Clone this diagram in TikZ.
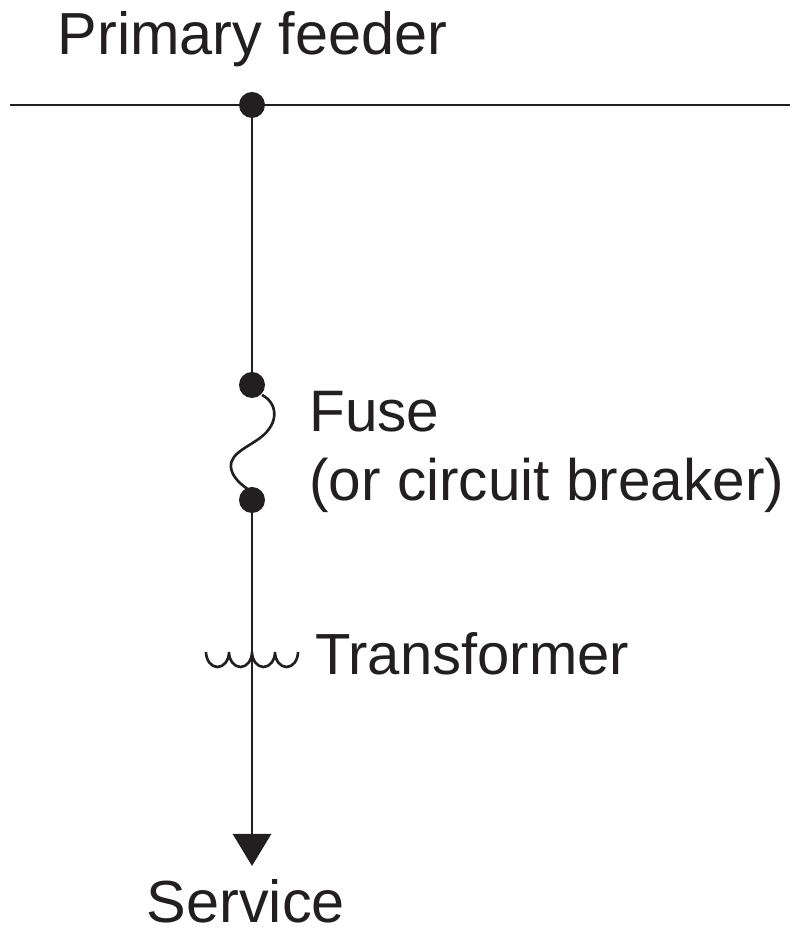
\documentclass[tikz,border=0pt]{standalone}
\usepackage{fontspec}
\setmainfont{Liberation Sans}
\usetikzlibrary{arrows.meta}
\definecolor{inkblack}{HTML}{231F20}

\begin{document}
\begin{tikzpicture}[
rest/.style={line width=1.5pt,color=inkblack},
contact/.style={circle,fill=inkblack,inner sep=0pt,minimum size=.52cm},
label/.style={anchor=base west,inner sep=0pt,text=inkblack,font=\fontsize{33.8}{34}\selectfont},
smalllabel/.style={label,font=\fontsize{33.3}{34}\selectfont},
servicearrow/.style={rest,-{Triangle[length=.64cm,width=.76cm]}}]

\useasboundingbox (0,0) rectangle (15.84,18.56);

\coordinate (feederleft) at (.2,16.46);
\coordinate (feederright) at (15.8,16.46);
\coordinate (servicetip) at (5.04,1.24);

\node[contact] (tap) at (5.04,16.46) {};
\node[contact] (fusetop) at (5.04,10.86) {};
\node[contact] (fusebottom) at (5.04,8.56) {};

\draw[rest] (feederleft) -- (feederright);
\draw[rest] (tap) -- (fusetop);
\draw[servicearrow] (fusebottom) -- (servicetip);

% fuse link
\draw[rest] (5.24,10.66) .. controls (5.55,10.5) and (5.6,10.1) .. (5.2,9.8)
    .. controls (4.9,9.58) and (4.5,9.45) .. (4.65,9.1)
    .. controls (4.72,8.95) and (4.85,8.85) .. (4.98,8.76);

% transformer winding
\draw[rest] (4.12,5.52) arc (180:360:.23 and .3) arc (180:360:.23 and .3)
    arc (180:360:.23 and .3) arc (180:360:.23 and .3);

\node[label] (feederlabel) at (1.15,17.46) {Primary feeder};
\node[smalllabel] (fuselabel) at (6.18,9.92) {Fuse};
\node[smalllabel] (breakerlabel) at (6.18,8.55) {(or circuit breaker)};
\node[label,font=\fontsize{33}{34}\selectfont] (transformerlabel) at (6.3,5.07) {Transformer};
\node[label] (servicelabel) at (2.93,.1) {Service};

\end{tikzpicture}
\end{document}
